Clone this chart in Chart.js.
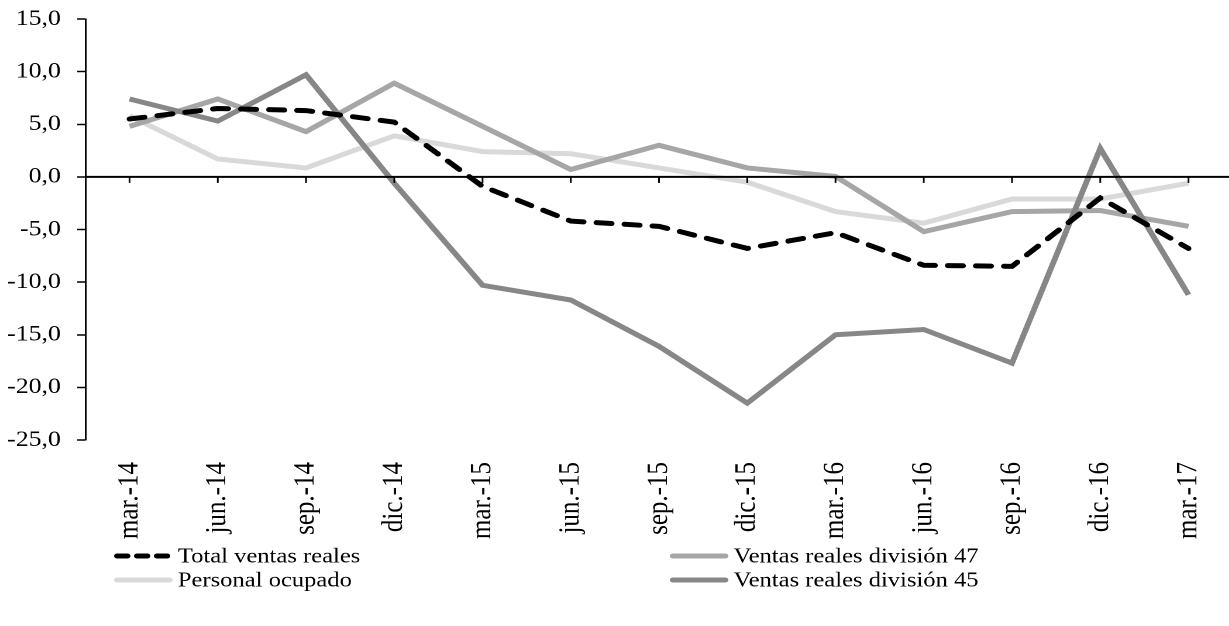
<!DOCTYPE html>
<html>
<head>
<meta charset="utf-8">
<script src="https://cdn.jsdelivr.net/npm/chart.js@4/dist/chart.umd.min.js"></script>
<style>
  html, body { margin: 0; padding: 0; background: #fff; overflow: hidden; }
  #wrap { width: 1060px; height: 626px; transform: scaleX(1.17); transform-origin: 0 0; }
</style>
</head>
<body>
<div id="wrap"><canvas id="c"></canvas></div>
<script>
const labels = ['mar.-14','jun.-14','sep.-14','dic.-14','mar.-15','jun.-15','sep.-15','dic.-15','mar.-16','jun.-16','sep.-16','dic.-16','mar.-17'];

const totalVentas = [5.5, 6.5, 6.3, 5.2, -0.9, -4.2, -4.7, -6.8, -5.3, -8.4, -8.5, -2.0, -6.8];
const personalOcupado = [5.8, 1.7, 0.85, 3.9, 2.4, 2.2, 0.85, -0.5, -3.3, -4.4, -2.1, -2.1, -0.6];
const ventasDiv47 = [4.8, 7.4, 4.3, 8.9, 4.8, 0.7, 3.0, 0.85, 0.05, -5.2, -3.3, -3.2, -4.7];
const ventasDiv45 = [7.4, 5.3, 9.7, -0.6, -10.3, -11.7, -16.1, -21.5, -15.0, -14.5, -17.7, 2.7, -11.2];

const yTicks = [-25, -20, -15, -10, -5, 0, 5, 10, 15];

const FONT = "'Liberation Serif', 'Times New Roman', serif";

// zero line with little ticks hanging under it, like the excel axis
const zeroAxis = {
  id: 'zeroAxis',
  afterDatasetsDraw(ch) {
    const c = ch.ctx, xs = ch.scales.x, ys = ch.scales.y, ca = ch.chartArea;
    const y0 = ys.getPixelForValue(0);
    c.save();
    c.strokeStyle = '#000';
    c.lineWidth = 2;
    c.beginPath();
    c.moveTo(ca.left, y0); c.lineTo(ca.right, y0);
    c.stroke();
    c.lineWidth = 1.5;
    labels.forEach((l, i) => {
      const x = xs.getPixelForValue(i);
      c.beginPath(); c.moveTo(x, y0); c.lineTo(x, y0 + 6); c.stroke();
    });
    c.restore();
  }
};

// two column legend under the axis labels
const legend2col = {
  id: 'legend2col',
  afterDraw(ch) {
    const c = ch.ctx;
    const slots = [[98, 556], [573, 556], [98, 580], [573, 580]];
    const order = [0, 2, 1, 3];
    c.save();
    c.font = '21px ' + FONT;
    c.textBaseline = 'middle';
    order.forEach((di, k) => {
      const ds = ch.data.datasets[di];
      const [x, y] = slots[k];
      c.strokeStyle = ds.borderColor;
      c.lineWidth = 5;
      c.lineCap = 'round';
      c.setLineDash(ds.borderDash ? [9, 8] : []);
      c.beginPath(); c.moveTo(x + 2, y); c.lineTo(x + 47, y); c.stroke();
      c.setLineDash([]);
      c.fillStyle = '#000';
      c.fillText(ds.label, x + 54, y + 1);
    });
    c.restore();
  }
};

new Chart(document.getElementById('c'), {
  type: 'line',
  plugins: [zeroAxis, legend2col],
  data: {
    labels: labels,
    datasets: [
      { label: 'Total ventas reales', data: totalVentas, borderColor: '#000000', borderWidth: 5,
        borderDash: [13, 11], borderCapStyle: 'round', order: 0 },
      { label: 'Personal ocupado', data: personalOcupado, borderColor: '#d9d9d9', borderWidth: 5, order: 3 },
      { label: 'Ventas reales división 47', data: ventasDiv47, borderColor: '#a6a6a6', borderWidth: 5, order: 2 },
      { label: 'Ventas reales división 45', data: ventasDiv45, borderColor: '#878787', borderWidth: 5, order: 1 }
    ]
  },
  options: {
    responsive: true, maintainAspectRatio: false,
    devicePixelRatio: 2,
    animation: false,
    elements: { point: { radius: 0 }, line: { tension: 0, fill: false } },
    layout: { padding: { top: 19, right: 5, left: 0, bottom: 0 } },
    scales: {
      x: {
        offset: true,
        grid: { display: false },
        border: { display: false },
        ticks: { color: '#000', font: { family: FONT, size: 25 }, minRotation: 90, maxRotation: 90, padding: 14, autoSkip: false },
        afterFit(s) { s.height = 186; }
      },
      y: {
        min: -25, max: 15,
        afterBuildTicks(s) { s.ticks = yTicks.map(v => ({ value: v })); },
        grid: { drawOnChartArea: false, drawTicks: true, tickLength: 7, tickColor: '#000', tickWidth: 1.5 },
        border: { display: true, color: '#000', width: 1.5 },
        ticks: { color: '#000', font: { family: FONT, size: 22 }, padding: 14,
          callback: v => v.toFixed(1).replace('.', ',') },
        afterFit(s) { s.width = 73; s.paddingTop = 10; s.paddingBottom = 10; }
      }
    },
    plugins: { legend: { display: false }, tooltip: { enabled: false } }
  }
});
</script>
</body>
</html>
